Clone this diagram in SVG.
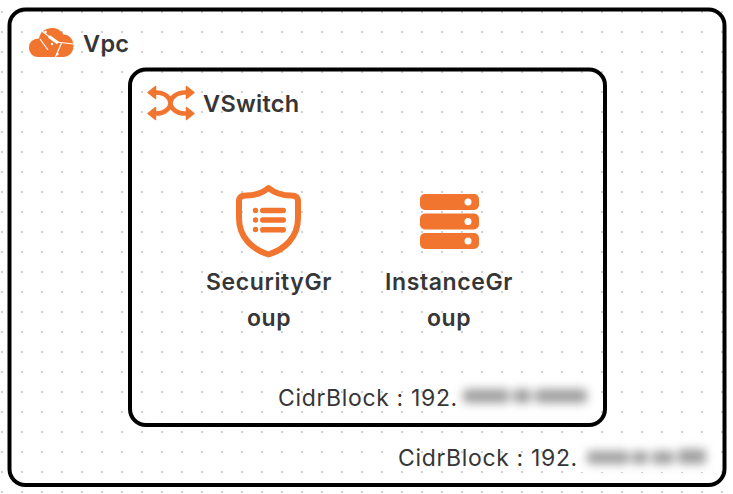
<svg xmlns="http://www.w3.org/2000/svg" width="733" height="494" viewBox="0 0 733 494">
  <defs>
    <pattern id="dots" x="0" y="0" width="20" height="20" patternUnits="userSpaceOnUse">
      <rect x="1" y="11" width="2" height="2" fill="#d0d0d0"/>
    </pattern>
    <filter id="soft" x="-15%" y="-100%" width="130%" height="300%">
      <feGaussianBlur stdDeviation="4.800"/>
    </filter>
  </defs>
  <style>
    .frame { fill: none; stroke: #000; stroke-width: 4; }
    .title { font-family: Inter, "Liberation Sans", sans-serif; font-weight: 600; fill: #363636; font-size: 23.500px; letter-spacing: 0.300px; }
    .name { font-family: Inter, "Liberation Sans", sans-serif; font-weight: 600; fill: #363636; font-size: 23px; letter-spacing: 0.600px; text-anchor: middle; }
    .cidr { font-family: Inter, "Liberation Sans", sans-serif; font-weight: 400; fill: #363636; font-size: 23px; letter-spacing: 0.650px; }
    .icon { fill: #f1752f; }
    .line { fill: none; stroke: #f1752f; stroke-linecap: round; stroke-linejoin: round; }
    .mask { fill: #fff; }
    .smear { fill: #a0a0a0; filter: url(#soft); }
  </style>

  <rect width="733" height="494" fill="#fff"/>
  <rect width="733" height="494" fill="url(#dots)"/>

  <g id="vpc">
    <rect class="frame" x="9.500" y="9.500" width="715" height="475.500" rx="16"/>
    <g id="vpc-icon">
      <path class="icon" d="M38 57 C32 57 29 52 29 48 C29 42 33 38.500 39 38.500 C40 32 46 28 52 28 C57.500 28 61 30.500 63.500 34.500 C69 34.500 73.500 39 73.500 46 C73.500 53 68.500 57 63 57 Z"/>
      <path d="M40 29.500 L56 42 L73.500 44 M61.500 43 L55 58 M40 39 L48 50" fill="none" stroke="#fff" stroke-width="1.200"/>
      <path d="M49 36.500 L58 43" fill="none" stroke="#fff" stroke-width="3.200"/>
      <circle cx="45.500" cy="32" r="1.300" fill="#fff"/>
      <circle cx="52" cy="44" r="1.200" fill="#fff"/>
      <circle cx="57.500" cy="54" r="1.200" fill="#fff"/>
    </g>
    <text class="title" x="83" y="52">Vpc</text>
    <text class="cidr" x="398" y="466">CidrBlock : 192.</text>
    <rect class="mask" x="580" y="445" width="131" height="27"/>
    <g class="smear">
      <rect x="587" y="451" width="42" height="13" rx="4"/>
      <rect x="632" y="451" width="16" height="13" rx="4"/>
      <rect x="652" y="451" width="22" height="13" rx="4"/>
      <rect x="678" y="449" width="28" height="15" rx="4"/>
    </g>
  </g>

  <g id="vswitch">
    <rect class="frame" x="130" y="69.500" width="475" height="355.500" rx="16"/>
    <g id="vswitch-icon">
      <path class="line" stroke-width="4.500" d="M152 92.500 H156 C165 92.500 170.500 98 170.500 103 C170.500 108 165 113.500 156 113.500 H152 M190 92.500 H185 C176 92.500 170.500 98 170.500 103 C170.500 108 176 113.500 185 113.500 H190"/>
      <path class="icon" stroke="#f1752f" stroke-width="1.500" stroke-linejoin="round" d="M155.500 86.500 L148 92.500 L155.500 98.500 Z M155.500 107.500 L148 113.500 L155.500 119.500 Z M186.500 86.500 L194 92.500 L186.500 98.500 Z M186.500 107.500 L194 113.500 L186.500 119.500 Z"/>
    </g>
    <text class="title" x="203" y="112">VSwitch</text>
    <text class="cidr" x="278" y="406">CidrBlock : 192.</text>
    <rect class="mask" x="456" y="378" width="137" height="37"/>
    <g class="smear">
      <rect x="463" y="389" width="46" height="14" rx="4"/>
      <rect x="513" y="389" width="18" height="14" rx="4"/>
      <rect x="535" y="389" width="52" height="14" rx="4"/>
    </g>
  </g>

  <g id="security-group">
    <path class="line" stroke-width="6" d="M268.500 188 C263 192.500 256 195.500 246 195.500 C241 195.500 239 197.500 239 201.500 V218 C239 238 253 249.500 268.500 254.500 C284 249.500 298 238 298 218 V201.500 C298 197.500 296 195.500 291 195.500 C281 195.500 274 192.500 268.500 188 Z"/>
    <g class="icon">
      <circle cx="255.500" cy="210.500" r="2.700"/>
      <circle cx="255.500" cy="220" r="2.700"/>
      <circle cx="255.500" cy="229.500" r="2.700"/>
      <rect x="260" y="207.700" width="26" height="5.600" rx="2.800"/>
      <rect x="260" y="217.200" width="26" height="5.600" rx="2.800"/>
      <rect x="260" y="227" width="26" height="5.600" rx="2.800"/>
    </g>
    <text class="name" x="269" y="290">SecurityGr</text>
    <text class="name" x="269" y="326">oup</text>
  </g>

  <g id="instance-group">
    <g class="icon">
      <rect x="420" y="194" width="59" height="16" rx="5"/>
      <rect x="420" y="213.500" width="59" height="16" rx="5"/>
      <rect x="420" y="233" width="59" height="16" rx="5"/>
    </g>
    <circle cx="468" cy="202" r="3.500" fill="#fff"/>
    <circle cx="468" cy="221.500" r="3.500" fill="#fff"/>
    <circle cx="468" cy="241" r="3.500" fill="#fff"/>
    <text class="name" x="449" y="290">InstanceGr</text>
    <text class="name" x="449" y="326">oup</text>
  </g>

  <g id="connectors"/>
</svg>
